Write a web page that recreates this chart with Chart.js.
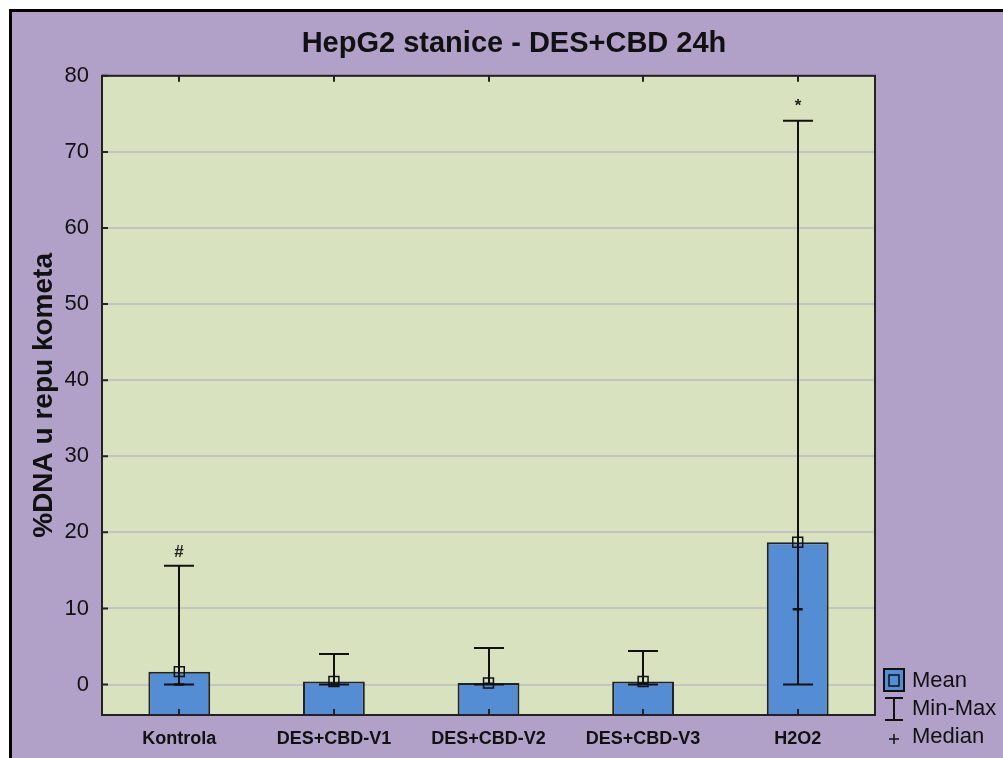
<!DOCTYPE html>
<html>
<head>
<meta charset="utf-8">
<script src="https://cdn.jsdelivr.net/npm/chart.js@4"></script>
<style>
  html, body { margin: 0; padding: 0; background: #ffffff; }
  #wrap { width: 1003px; height: 758px; position: relative; }
</style>
</head>
<body>
<div id="wrap"><canvas id="box-chart"></canvas></div>
<script>
// values
const categories = ['Kontrola', 'DES+CBD-V1', 'DES+CBD-V2', 'DES+CBD-V3', 'H2O2'];
const means = [1.7, 0.4, 0.2, 0.4, 18.7];
const medians = [0.0, 0.0, 0.1, 0.1, 9.9];
const mins = [0, 0, 0, 0, 0];
const maxs = [15.6, 4.0, 4.8, 4.4, 74.1];
const marks = ['#', '', '', '', '*'];
const yTicks = [0, 10, 20, 30, 40, 50, 60, 70, 80];
const yMin = -4;
const yMax = 80;

const FONT = "Arial, 'Liberation Sans', sans-serif";
const purple = 'rgb(177, 160, 200)';
const plotGreen = 'rgb(216, 226, 190)';
const barBlue = 'rgb(84, 141, 212)';

// frame, purple panel and green plot area
const backgroundPlugin = {
    id: 'background',
    beforeDraw(chart) {
        const { ctx, width, height, chartArea } = chart;
        ctx.save();
        ctx.fillStyle = '#ffffff';
        ctx.fillRect(0, 0, width, height);
        ctx.fillStyle = purple;
        ctx.fillRect(10, 10, width - 10, height - 10);
        ctx.strokeStyle = '#000';
        ctx.lineWidth = 3;
        ctx.beginPath();
        ctx.moveTo(10.5, height);
        ctx.lineTo(10.5, 10.5);
        ctx.lineTo(width, 10.5);
        ctx.stroke();
        ctx.fillStyle = plotGreen;
        ctx.fillRect(chartArea.left, chartArea.top, chartArea.right - chartArea.left, chartArea.bottom - chartArea.top);
        ctx.restore();
    }
};

// min-max whiskers and the # / * marks, drawn over the bars
const whiskerPlugin = {
    id: 'whiskers',
    afterDatasetDraw(chart, args) {
        if (args.meta.type !== 'bar') return;
        const { ctx } = chart;
        const x = chart.scales.x, y = chart.scales.y;
        ctx.save();
        ctx.strokeStyle = '#111';
        ctx.lineWidth = 2;
        categories.forEach((c, i) => {
            const px = Math.round(x.getPixelForValue(i));
            const top = y.getPixelForValue(maxs[i]);
            const bot = y.getPixelForValue(mins[i]);
            ctx.beginPath();
            ctx.moveTo(px, top);
            ctx.lineTo(px, bot);
            ctx.moveTo(px - 15, top);
            ctx.lineTo(px + 15, top);
            ctx.moveTo(px - 15, bot);
            ctx.lineTo(px + 15, bot);
            ctx.stroke();
            if (marks[i]) {
                ctx.fillStyle = '#222';
                ctx.font = 'bold 17px ' + FONT;
                ctx.textAlign = 'center';
                ctx.textBaseline = 'middle';
                ctx.fillText(marks[i], px, top - 14);
            }
        });
        ctx.restore();
    }
};

// frame of the plot, inner tick marks and the legend on the right
const framePlugin = {
    id: 'frame',
    afterDraw(chart) {
        const { ctx, chartArea } = chart;
        const x = chart.scales.x, y = chart.scales.y;
        ctx.save();
        ctx.strokeStyle = '#222';
        ctx.lineWidth = 2;
        ctx.strokeRect(chartArea.left, chartArea.top, chartArea.right - chartArea.left, chartArea.bottom - chartArea.top);
        ctx.beginPath();
        yTicks.forEach(v => {
            const py = y.getPixelForValue(v);
            ctx.moveTo(chartArea.left, py);
            ctx.lineTo(chartArea.left + 6, py);
        });
        categories.forEach((c, i) => {
            const px = Math.round(x.getPixelForValue(i));
            ctx.moveTo(px, chartArea.bottom);
            ctx.lineTo(px, chartArea.bottom - 6);
            ctx.moveTo(px, chartArea.top);
            ctx.lineTo(px, chartArea.top + 6);
        });
        ctx.stroke();

        // legend
        const lx = chartArea.right + 9;
        ctx.fillStyle = barBlue;
        ctx.fillRect(lx, 669, 20, 22);
        ctx.strokeStyle = '#111';
        ctx.lineWidth = 2;
        ctx.strokeRect(lx, 669, 20, 22);
        ctx.lineWidth = 1.5;
        ctx.strokeRect(lx + 5, 675, 10, 11);
        ctx.lineWidth = 2;
        ctx.beginPath();
        ctx.moveTo(lx + 1, 698); ctx.lineTo(lx + 19, 698);
        ctx.moveTo(lx + 10, 698); ctx.lineTo(lx + 10, 720);
        ctx.moveTo(lx + 1, 720); ctx.lineTo(lx + 19, 720);
        ctx.stroke();
        ctx.lineWidth = 1.5;
        ctx.beginPath();
        ctx.moveTo(lx + 5, 739); ctx.lineTo(lx + 15, 739);
        ctx.moveTo(lx + 10, 734); ctx.lineTo(lx + 10, 744);
        ctx.stroke();
        ctx.fillStyle = '#111';
        ctx.font = '22px ' + FONT;
        ctx.textAlign = 'left';
        ctx.textBaseline = 'middle';
        ctx.fillText('Mean', lx + 28, 681);
        ctx.fillText('Min-Max', lx + 28, 709);
        ctx.fillText('Median', lx + 28, 737);
        ctx.restore();
    }
};

const canvas = document.querySelector('#box-chart');

new Chart(canvas.getContext('2d'), {
    type: 'bar',
    data: {
        labels: categories,
        datasets: [
            {
                type: 'line',
                label: 'Median',
                data: medians,
                showLine: false,
                pointStyle: 'line',
                pointRadius: 5,
                borderColor: '#111',
                borderWidth: 2.5
            },
            {
                type: 'line',
                label: 'Mean',
                data: means,
                showLine: false,
                pointStyle: 'rect',
                pointRadius: 7,
                backgroundColor: 'rgba(0,0,0,0)',
                borderColor: '#111',
                borderWidth: 1.5
            },
            {
                type: 'bar',
                label: 'Mean',
                data: means,
                base: yMin,
                backgroundColor: barBlue,
                borderColor: '#222',
                borderWidth: 2,
                barPercentage: 0.4,
                categoryPercentage: 1
            }
        ]
    },
    options: {
        responsive: true,
        maintainAspectRatio: false,
        animation: false,
        layout: { padding: { left: 25, right: 0, top: 12, bottom: 0 } },
        plugins: {
            legend: { display: false },
            tooltip: { enabled: false },
            title: {
                display: true,
                text: 'HepG2 stanice - DES+CBD 24h',
                color: '#111',
                font: { family: FONT, size: 29, weight: 'bold' },
                padding: { top: 15, bottom: 14 }
            }
        },
        scales: {
            x: {
                grid: { display: false, drawTicks: false },
                border: { display: false },
                ticks: {
                    color: '#111',
                    font: { family: FONT, size: 18, weight: 'bold' },
                    padding: 13,
                    maxRotation: 0
                },
                afterFit(scale) { scale.height = 43; }
            },
            y: {
                min: yMin,
                max: yMax,
                afterBuildTicks(scale) { scale.ticks = yTicks.map(v => ({ value: v })); },
                grid: { color: 'rgb(196, 196, 196)', lineWidth: 2, drawTicks: false },
                border: { display: false },
                ticks: {
                    color: '#111',
                    font: { family: FONT, size: 22 },
                    padding: 13
                },
                title: {
                    display: true,
                    text: '%DNA u repu kometa',
                    color: '#111',
                    font: { family: FONT, size: 28, weight: 'bold' },
                    padding: { top: 2, bottom: 0 }
                },
                afterFit(scale) { scale.width = 77; }
            },
            right: {
                position: 'right',
                display: true,
                grid: { display: false },
                border: { display: false },
                ticks: { display: false },
                afterFit(scale) { scale.width = 128; }
            }
        }
    },
    plugins: [backgroundPlugin, whiskerPlugin, framePlugin]
});
</script>
</body>
</html>
